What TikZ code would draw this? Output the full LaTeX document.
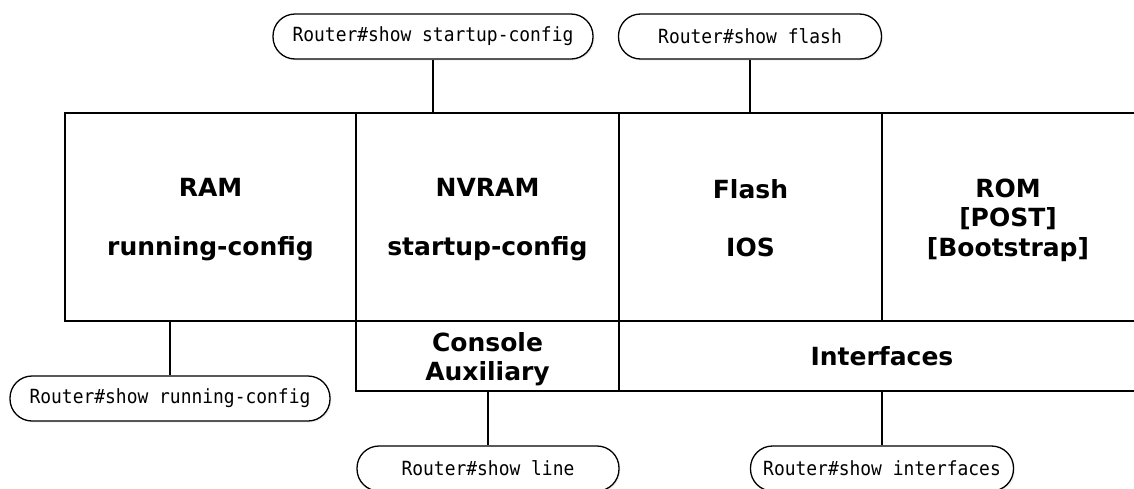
\documentclass[tikz,border=0pt]{standalone}
\usepackage{fontspec}
\newfontfamily\labfont{DejaVu Sans}
\newfontfamily\cmdfont[FakeStretch=0.92]{DejaVu Sans Mono}
\usetikzlibrary{shadows}
\begin{document}
\begin{tikzpicture}[x=1pt,y=-1pt,
  cell/.style={draw, line width=1.5pt, inner sep=0pt},
  lab/.style={align=center, inner sep=0pt,
    font=\labfont\bfseries\fontsize{25}{29.5}\selectfont},
  cmd/.style={draw, line width=1.3pt, rounded corners=22pt, fill=white, inner sep=0pt,
    minimum height=45pt, font=\cmdfont\fontsize{19.5}{22}\selectfont,
    drop shadow={opacity=0.12, shadow xshift=1.5pt, shadow yshift=-1.5pt}},
  link/.style={line width=1.5pt}]
\useasboundingbox (0,0) rectangle (1134,488);
% main row
\node[cell, minimum width=291pt, minimum height=208pt] (ram) at (210.5,217) {};
\node[cell, minimum width=263pt, minimum height=208pt] (nvram) at (487.5,217) {};
\node[cell, minimum width=263pt, minimum height=208pt] (flash) at (750.5,217) {};
\node[cell, minimum width=256pt, minimum height=208pt] (rom) at (1010,217) {};
% second row
\node[cell, minimum width=263pt, minimum height=70pt] (con) at (487.5,356) {};
\node[cell, minimum width=520pt, minimum height=70pt] (intf) at (879,356) {};
% labels
\node[lab] (ramlab) at ([yshift=-3pt]ram.center) {RAM\\[29.5pt]running-config};
\node[lab] (nvramlab) at ([yshift=-3pt]nvram.center) {NVRAM\\[29.5pt]startup-config};
\node[lab] (flashlab) at ([yshift=-1pt]flash.center) {Flash\\[29pt]IOS};
\node[lab] (romlab) at (1008,220) {ROM\\{}[POST]\\{}[Bootstrap]};
\node[lab] (conlab) at ([yshift=-3pt]con.center) {Console\\Auxiliary};
\node[lab] (intflab) at (882,356) {Interfaces};
% commands
\node[cmd, minimum width=320pt] (c1) at (433,36.5) {Router\#show startup-config};
\node[cmd, minimum width=263pt] (c2) at (750,36.5) {Router\#show flash};
\node[cmd, minimum width=320pt] (c3) at (170,398.5) {Router\#show running-config};
\node[cmd, minimum width=262pt] (c4) at (488,468.5) {Router\#show line};
\node[cmd, minimum width=263pt] (c5) at (882,468.5) {Router\#show interfaces};
% connectors
\draw[link] (c1.south) -- (c1.south |- nvram.north);
\draw[link] (c2.south) -- (c2.south |- flash.north);
\draw[link] (c3.north) -- (c3.north |- ram.south);
\draw[link] (c4.north) -- (c4.north |- con.south);
\draw[link] (c5.north) -- (c5.north |- intf.south);
\end{tikzpicture}
\end{document}
